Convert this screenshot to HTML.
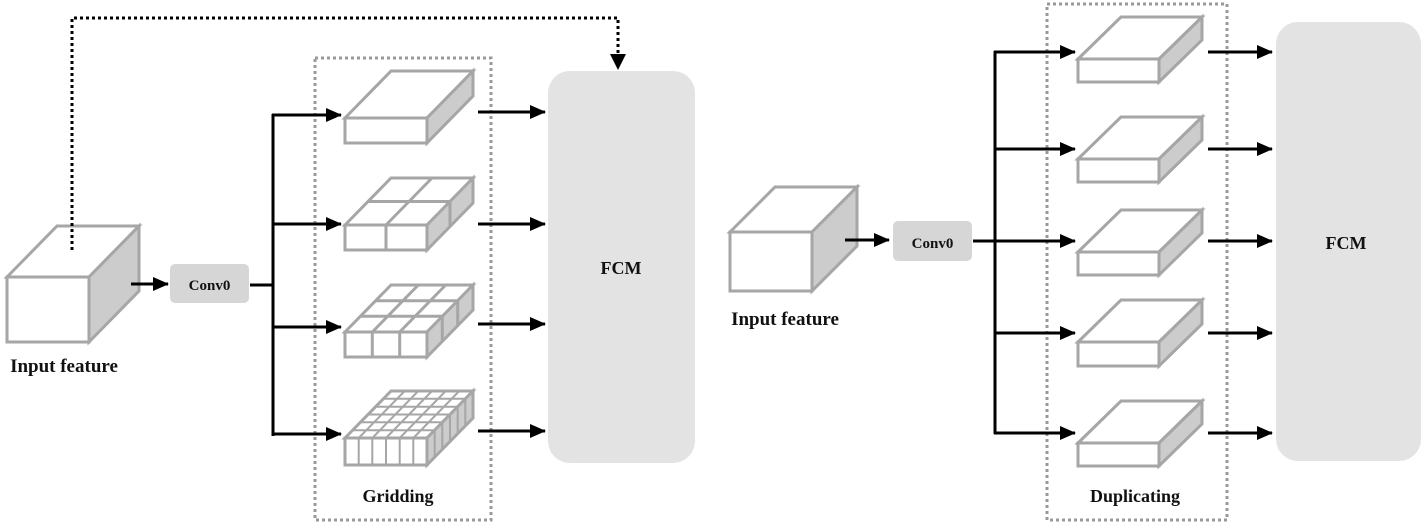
<!DOCTYPE html>
<html><head><meta charset="utf-8"><style>
html,body{margin:0;padding:0;background:#fff}
svg{display:block}
text{font-family:"Liberation Serif",serif;font-weight:bold;fill:#111}
</style></head><body>
<svg width="1422" height="525" viewBox="0 0 1422 525" xmlns="http://www.w3.org/2000/svg">
<defs>
<marker id="ah" markerWidth="10" markerHeight="10" refX="9" refY="5" orient="auto" markerUnits="userSpaceOnUse">
<path d="M0,0 L10,5 L0,10 z" fill="#000"/>
</marker>
<marker id="ah2" markerWidth="16" markerHeight="14" refX="15" refY="7" orient="auto" markerUnits="userSpaceOnUse">
<path d="M0,0 L16,7 L0,14 z" fill="#000"/>
</marker>
</defs>

<!-- dotted boxes -->
<rect x="315" y="58" width="176" height="462" fill="none" stroke="#999" stroke-width="3" stroke-dasharray="3,3"/>
<rect x="1047" y="4" width="180" height="516" fill="none" stroke="#999" stroke-width="3" stroke-dasharray="3,3"/>

<!-- FCM boxes -->
<rect x="548" y="71" width="147" height="392" rx="22" fill="#e3e3e3"/>
<text x="621" y="274" font-size="18" text-anchor="middle">FCM</text>
<rect x="1276" y="22" width="145" height="439" rx="22" fill="#e3e3e3"/>
<text x="1346" y="249" font-size="18" text-anchor="middle">FCM</text>

<g stroke="#a6a6a6" stroke-width="3" stroke-linejoin="miter">
<!-- Input cube 1 -->
<rect x="7" y="277" width="82" height="65" fill="#fff"/>
<polygon points="7,277 57,226 139,226 89,277" fill="#fff"/>
<polygon points="89,277 139,226 139,291 89,342" fill="#ccc"/>
<!-- Input cube 2 -->
<rect x="730" y="232" width="82" height="59" fill="#fff"/>
<polygon points="730,232 775,187 857,187 812,232" fill="#fff"/>
<polygon points="812,232 857,187 857,246 812,291" fill="#ccc"/>

<!-- Gridding cubes -->
<rect x="345" y="118" width="82" height="25" fill="#fff"/>
<polygon points="345,118 391,71 473,71 427,118" fill="#fff"/>
<polygon points="427,118 473,71 473,96 427,143" fill="#ccc"/>

<rect x="345" y="225" width="82" height="25" fill="#fff"/>
<polygon points="345,225 391,178 473,178 427,225" fill="#fff"/>
<polygon points="427,225 473,178 473,203 427,250" fill="#ccc"/>
<path d="M386,225 V250 M368,201.5 H450 M386,225 L432,178 M450,201.5 V226.5" fill="none"/>

<rect x="345" y="332" width="82" height="25" fill="#fff"/>
<polygon points="345,332 391,285 473,285 427,332" fill="#fff"/>
<polygon points="427,332 473,285 473,310 427,357" fill="#ccc"/>
<path d="M372.3,332 V357 M399.7,332 V357 M360.3,316.3 H442.3 M375.7,300.7 H457.7 M372.3,332 L418.3,285 M399.7,332 L445.7,285 M442.3,316.3 V341.3 M457.7,300.7 V325.7" fill="none"/>

<rect x="345" y="438" width="82" height="27" fill="#fff"/>
<polygon points="345,438 391,391 473,391 427,438" fill="#fff"/>
<polygon points="427,438 473,391 473,418 427,465" fill="#ccc"/>
<path d="M358.7,438 V465 M372.3,438 V465 M386,438 V465 M399.7,438 V465 M413.3,438 V465
M352.7,430.2 H434.7 M360.3,422.3 H442.3 M368,414.5 H450 M375.7,406.7 H457.7 M383.3,398.8 H465.3
M358.7,438 L404.7,391 M372.3,438 L418.3,391 M386,438 L432,391 M399.7,438 L445.7,391 M413.3,438 L459.3,391
M434.7,430.2 V457.2 M442.3,422.3 V449.3 M450,414.5 V441.5 M457.7,406.7 V433.7 M465.3,398.8 V425.8" fill="none" stroke-width="2"/>

<!-- Duplicating cubes -->
<rect x="1078" y="59" width="81" height="23" fill="#fff"/>
<polygon points="1078,59 1121,17 1202,17 1159,59" fill="#fff"/>
<polygon points="1159,59 1202,17 1202,40 1159,82" fill="#ccc"/>
<rect x="1078" y="159" width="81" height="23" fill="#fff"/>
<polygon points="1078,159 1121,117 1202,117 1159,159" fill="#fff"/>
<polygon points="1159,159 1202,117 1202,140 1159,182" fill="#ccc"/>
<rect x="1078" y="252" width="81" height="23" fill="#fff"/>
<polygon points="1078,252 1121,210 1202,210 1159,252" fill="#fff"/>
<polygon points="1159,252 1202,210 1202,233 1159,275" fill="#ccc"/>
<rect x="1078" y="342" width="81" height="24" fill="#fff"/>
<polygon points="1078,342 1121,300 1202,300 1159,342" fill="#fff"/>
<polygon points="1159,342 1202,300 1202,324 1159,366" fill="#ccc"/>
<rect x="1078" y="443" width="81" height="23" fill="#fff"/>
<polygon points="1078,443 1121,401 1202,401 1159,443" fill="#fff"/>
<polygon points="1159,443 1202,401 1202,424 1159,466" fill="#ccc"/>
</g>

<!-- Conv0 boxes -->
<rect x="170" y="264" width="79" height="39" rx="5" fill="#d6d6d6"/>
<text x="209.5" y="290" font-size="15" text-anchor="middle">Conv0</text>
<rect x="893" y="221" width="79" height="40" rx="5" fill="#d6d6d6"/>
<text x="932.5" y="248" font-size="15" text-anchor="middle">Conv0</text>

<!-- Left connectors -->
<g stroke="#000" stroke-width="3" fill="none">
<line x1="131" y1="284" x2="168" y2="284" marker-end="url(#ah2)"/>
<line x1="250" y1="285" x2="273" y2="285"/>
<line x1="273" y1="114" x2="273" y2="436"/>
<line x1="272" y1="115" x2="341" y2="115" marker-end="url(#ah2)"/>
<line x1="272" y1="224" x2="341" y2="224" marker-end="url(#ah2)"/>
<line x1="272" y1="327" x2="341" y2="327" marker-end="url(#ah2)"/>
<line x1="272" y1="434" x2="341" y2="434" marker-end="url(#ah2)"/>
<line x1="478" y1="112" x2="545" y2="112" marker-end="url(#ah2)"/>
<line x1="478" y1="224" x2="545" y2="224" marker-end="url(#ah2)"/>
<line x1="478" y1="324" x2="545" y2="324" marker-end="url(#ah2)"/>
<line x1="478" y1="431" x2="545" y2="431" marker-end="url(#ah2)"/>
<polyline points="72,250 72,18 618,18 618,56" stroke-dasharray="3,3"/>
</g>
<path d="M610,54 L626,54 L618,70 z" fill="#000"/>

<!-- Right connectors -->
<g stroke="#000" stroke-width="3" fill="none">
<line x1="845" y1="240" x2="889" y2="240" marker-end="url(#ah2)"/>
<line x1="973" y1="241" x2="995" y2="241"/>
<line x1="995" y1="51" x2="995" y2="434"/>
<line x1="994" y1="52" x2="1075" y2="52" marker-end="url(#ah2)"/>
<line x1="994" y1="149" x2="1075" y2="149" marker-end="url(#ah2)"/>
<line x1="994" y1="241" x2="1075" y2="241" marker-end="url(#ah2)"/>
<line x1="994" y1="333" x2="1075" y2="333" marker-end="url(#ah2)"/>
<line x1="994" y1="433" x2="1075" y2="433" marker-end="url(#ah2)"/>
<line x1="1208" y1="52" x2="1272" y2="52" marker-end="url(#ah2)"/>
<line x1="1208" y1="149" x2="1272" y2="149" marker-end="url(#ah2)"/>
<line x1="1208" y1="241" x2="1272" y2="241" marker-end="url(#ah2)"/>
<line x1="1208" y1="333" x2="1272" y2="333" marker-end="url(#ah2)"/>
<line x1="1208" y1="433" x2="1272" y2="433" marker-end="url(#ah2)"/>
</g>

<!-- Labels -->
<text x="64" y="372" font-size="19" text-anchor="middle">Input feature</text>
<text x="785" y="325" font-size="19" text-anchor="middle">Input feature</text>
<text x="398" y="502" font-size="18" text-anchor="middle">Gridding</text>
<text x="1135" y="502" font-size="18" text-anchor="middle">Duplicating</text>
</svg>
</body></html>
